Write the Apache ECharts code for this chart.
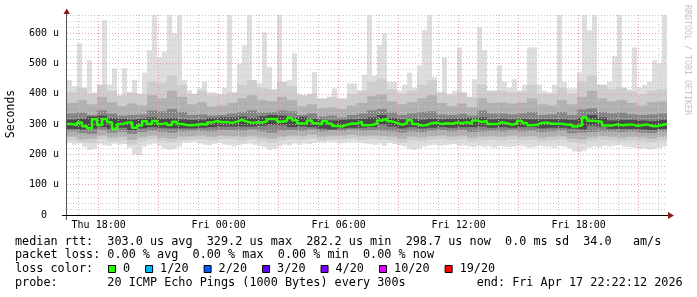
<!DOCTYPE html>
<html><head><meta charset="utf-8">
<script src="https://cdn.jsdelivr.net/npm/echarts@6/dist/echarts.min.js"></script>
<style>html,body{margin:0;padding:0;background:#fff}#c{width:697px;height:297px}</style>
</head><body><div id="c"></div>
<script>
// ---- data (microseconds), 120 columns of 15 min from Thu 16:25 ----
const medianVals = [300,297,305,293,286,316,297,317,306,285,
 300,305,306,288,295,309,300,310,300,304,
 297,308,300,297,296,298,300,298,305,310,
 306,307,304,308,314,308,304,306,305,309,
 317,316,308,310,320,313,302,303,312,303,
 299,310,302,294,292,298,302,302,308,296,
 297,302,312,318,309,304,298,303,313,300,
 295,297,303,305,300,303,301,305,303,306,
 302,312,307,310,300,300,306,303,298,302,
 311,304,296,298,304,305,301,301,301,298,
 299,292,296,322,311,309,308,295,295,299,
 296,298,299,294,296,299,294,293,297,300];
const maxVals = [445,425,567,420,511,405,420,643,430,484,
 390,484,395,446,385,470,544,660,520,540,
 660,600,660,445,412,385,418,440,405,405,
 395,420,660,396,500,560,660,430,435,603,
 488,410,660,435,445,534,400,395,395,472,
 380,380,385,418,380,380,434,434,400,462,
 660,460,560,600,440,440,410,430,470,420,
 494,610,660,456,380,520,400,410,553,400,
 356,448,620,544,410,400,494,440,420,448,
 410,430,553,553,430,410,405,430,660,440,
 418,418,470,660,610,660,430,420,440,525,
 660,420,415,553,420,430,440,511,500,660];
const minVals = [238,232,236,225,215,218,235,230,228,236,
 232,234,222,200,198,226,232,236,228,220,
 215,218,226,238,240,242,236,232,230,235,
 238,232,230,226,230,234,236,232,228,224,
 215,218,226,232,230,236,232,236,234,238,
 240,238,242,240,236,238,240,242,238,236,
 235,232,236,228,238,234,230,226,218,215,
 220,226,230,232,228,230,232,234,228,230,
 226,224,228,225,226,222,228,226,224,226,
 228,226,222,224,228,226,225,222,228,226,
 220,210,208,212,222,226,224,228,226,228,
 230,226,224,222,218,220,216,218,222,226];
// 60 columns of 30 min
const band0Hi = [405,420,400,430,410,395,405,400,440,435,460,430,400,410,395,398,405,430,445,420,415,440,425,395,400,385,390,385,398,410,440,450,415,400,410,430,445,405,395,405,390,430,410,410,405,408,430,400,398,420,400,440,460,430,415,420,408,398,410,415];
const band0Lo = [246,240,238,250,244,246,232,244,250,244,240,246,248,250,246,250,250,246,250,244,238,246,250,248,252,246,250,250,252,248,250,248,246,240,246,244,248,250,246,250,244,246,248,246,250,246,248,244,246,248,240,236,244,248,246,244,246,244,240,246];
const band1Hi = [370,380,365,390,372,360,368,362,395,385,410,390,365,372,358,362,370,385,395,380,375,390,380,360,365,352,355,350,362,370,392,398,375,365,372,385,395,370,360,368,355,385,370,372,368,370,385,365,362,380,365,390,410,385,375,380,370,362,372,375];
const band1Lo = [258,250,252,262,255,258,248,256,262,255,252,258,260,262,258,262,260,258,262,256,252,258,262,260,265,258,262,262,265,260,262,260,258,252,258,256,260,262,258,262,255,258,260,258,262,258,260,255,258,260,252,250,256,260,258,255,258,256,252,258];
const band2Hi = [335,338,330,345,335,328,330,332,345,342,350,340,330,332,328,330,335,340,345,338,340,345,342,330,335,325,328,322,330,335,345,350,338,330,335,340,342,332,330,334,328,345,335,335,332,335,340,330,332,340,330,348,352,340,335,338,332,330,332,335];
const band2Lo = [276,270,268,280,272,275,268,274,278,275,272,276,278,278,276,280,280,278,282,276,272,278,280,278,282,276,280,278,282,278,280,278,276,272,276,274,278,280,276,280,274,276,278,276,280,276,278,274,276,278,270,272,274,276,276,274,276,272,270,276];
const band3Hi = [315,318,325,328,320,318,315,318,322,318,320,316,314,315,320,322,322,325,320,326,330,328,320,324,318,315,312,314,316,318,322,330,320,316,318,315,318,316,318,318,320,322,316,318,316,318,316,316,316,316,314,322,330,322,312,314,314,312,310,314];
const band3Lo = [284,282,285,290,285,288,280,286,290,288,286,286,286,288,290,292,292,292,292,294,298,296,290,292,290,285,282,286,288,288,290,298,292,286,290,286,288,290,288,290,290,292,288,290,288,290,290,286,288,288,285,282,295,290,284,284,284,282,280,284];

const xTickLabels = ['Thu 18:00','Fri 00:00','Fri 06:00','Fri 12:00','Fri 18:00'];
const yTickValues = [0,100,200,300,400,500,600];
const lossLabels = ['0','1/20','2/20','3/20','4/20','10/20','19/20'];
const lossColors = ['#26ff00','#00b8ff','#0059ff','#5e00ff','#7e00ff','#dd00ff','#ff0000'];
const legendLines = [
 'median rtt:  303.0 us avg  329.2 us max  282.2 us min  298.7 us now  0.0 ms sd  34.0   am/s',
 'packet loss: 0.00 % avg  0.00 % max  0.00 % min  0.00 % now',
 'loss color:',
 'probe:       20 ICMP Echo Pings (1000 Bytes) every 300s          end: Fri Apr 17 22:22:12 2026'
];

// ---- axis categories: 5-minute slots ----
const startMin = 985; // Thu 16:25
const slots = 360;
const cats = [];
for (let i = 0; i <= slots; i++) {
  const m = startMin + 5 * i;
  const day = m < 1440 ? 'Thu' : 'Fri';
  const mm = m % 1440;
  const hh = String(Math.floor(mm / 60)).padStart(2, '0');
  const mi = String(mm % 60).padStart(2, '0');
  cats.push(day + ' ' + hh + ':' + mi);
}

function bandData(lo, hi) {
  const step = slots / lo.length;
  return lo.map((v, j) => [j * step, (j + 1) * step, v, hi[j]]);
}
function bandSeries(lo, hi, color) {
  return {
    type: 'custom', xAxisIndex: 0, yAxisIndex: 0, z: 2, silent: true,
    encode: { x: [0, 1], y: [2, 3] },
    data: bandData(lo, hi),
    renderItem: function (params, api) {
      const a = api.coord([api.value(0), api.value(3)]);
      const b = api.coord([api.value(1), api.value(2)]);
      return { type: 'rect', shape: { x: a[0], y: a[1], width: b[0] - a[0], height: b[1] - a[1] }, style: { fill: color } };
    }
  };
}
const medStep = slots / medianVals.length;
const medData = medianVals.map((v, j) => [j * medStep, v]);
medData.push([slots, medianVals[medianVals.length - 1]]);

const mono = 'DejaVu Sans Mono';
const minorC = '#c8c8c8', majorC = '#e4a0a0';

// legend graphics
const gfx = [];
const rowY = [241.5, 255.3, 269.1, 282.8];
legendLines.forEach((t, i) => {
  gfx.push({ type: 'text', x: 15, y: rowY[i], silent: true,
    style: { text: t, font: '11.8px "' + mono + '"', fill: '#000', textVerticalAlign: 'middle' } });
});
let bx = 108;
lossLabels.forEach((lab, i) => {
  gfx.push({ type: 'rect', silent: true, shape: { x: bx + 0.5, y: 265.5, width: 7, height: 7 },
    style: { fill: lossColors[i], stroke: '#000', lineWidth: 1 } });
  const tx = bx + 15;
  gfx.push({ type: 'text', x: tx, y: rowY[2], silent: true,
    style: { text: lab, font: '11.8px "' + mono + '"', fill: '#000', textVerticalAlign: 'middle' } });
  bx = tx + lab.length * 7.12 + 15;
});
// axes lines and arrows
gfx.push({ type: 'line', silent: true, z: 50, shape: { x1: 66.5, y1: 220, x2: 66.5, y2: 13 }, style: { stroke: '#555', lineWidth: 1 } });
gfx.push({ type: 'line', silent: true, z: 50, shape: { x1: 62, y1: 215.5, x2: 668, y2: 215.5 }, style: { stroke: '#000', lineWidth: 1 } });
gfx.push({ type: 'polygon', silent: true, z: 51, shape: { points: [[63.5, 14], [70, 14], [66.75, 8.5]] }, style: { fill: '#8b1a1a' } });
gfx.push({ type: 'polygon', silent: true, z: 51, shape: { points: [[668, 212], [668, 219], [674, 215.5]] }, style: { fill: '#8b1a1a' } });
gfx.push({ type: 'text', x: 11, y: 114, rotation: Math.PI / 2, silent: true,
  style: { text: 'Seconds', font: '11.5px "' + mono + '"', fill: '#000', textAlign: 'center', textVerticalAlign: 'middle' } });
gfx.push({ type: 'text', x: 687.5, y: 5, rotation: -Math.PI / 2, silent: true,
  style: { text: 'RRDTOOL / TOBI OETIKER', font: '8.3px "' + mono + '"', fill: '#c4c4c4', textAlign: 'left', textVerticalAlign: 'middle' } });

const chart = echarts.init(document.getElementById('c'), null, { renderer: 'canvas' });
chart.setOption({
  animation: false,
  backgroundColor: '#fff',
  grid: { left: 67, right: 30, top: 15, bottom: 82 },
  xAxis: [
    { type: 'category', data: cats, boundaryGap: false, z: 3,
      axisLine: { show: false }, axisTick: { show: false }, axisLabel: { show: false },
      splitLine: { show: true, interval: (i) => (startMin + 5 * i) % 60 === 0, lineStyle: { color: minorC, type: [1, 2], width: 1 } } },
    { type: 'category', data: cats, boundaryGap: false, position: 'bottom', z: 4,
      axisLine: { show: false }, axisTick: { show: false },
      axisLabel: { interval: (i, v) => xTickLabels.indexOf(v) >= 0, fontFamily: mono, fontSize: 10, color: '#000', margin: 5 },
      splitLine: { show: true, interval: (i) => (startMin + 5 * i) % 180 === 0, lineStyle: { color: majorC, type: [1, 2], width: 1 } } }
  ],
  yAxis: [
    { type: 'value', min: 0, max: 660, interval: 20, z: 3,
      axisLine: { show: false }, axisTick: { show: false }, axisLabel: { show: false },
      splitLine: { show: true, showMinLine: false, lineStyle: { color: minorC, type: [1, 2], width: 1 } } },
    { type: 'value', min: 0, max: 660, interval: 100, position: 'left', z: 4,
      axisLine: { show: false }, axisTick: { show: false },
      axisLabel: { margin: 8, fontFamily: mono, fontSize: 10, color: '#000',
        formatter: (v) => yTickValues.indexOf(v) < 0 ? '' : (v === 0 ? '0  ' : v + ' u') },
      splitLine: { show: true, showMinLine: false, showMaxLine: false, lineStyle: { color: majorC, type: [1, 2], width: 1 } } }
  ],
  series: [
    bandSeries(minVals, maxVals, '#dedede'),
    bandSeries(band0Lo, band0Hi, '#cdcdcd'),
    bandSeries(band1Lo, band1Hi, '#b0b0b0'),
    bandSeries(band2Lo, band2Hi, '#858585'),
    bandSeries(band3Lo, band3Hi, '#4a4a4a'),
    { type: 'line', xAxisIndex: 0, yAxisIndex: 0, data: medData, step: 'end', symbol: 'none', z: 10,
      lineStyle: { color: '#26ff00', width: 2.5 } }
  ],
  graphic: gfx
});
</script></body></html>
